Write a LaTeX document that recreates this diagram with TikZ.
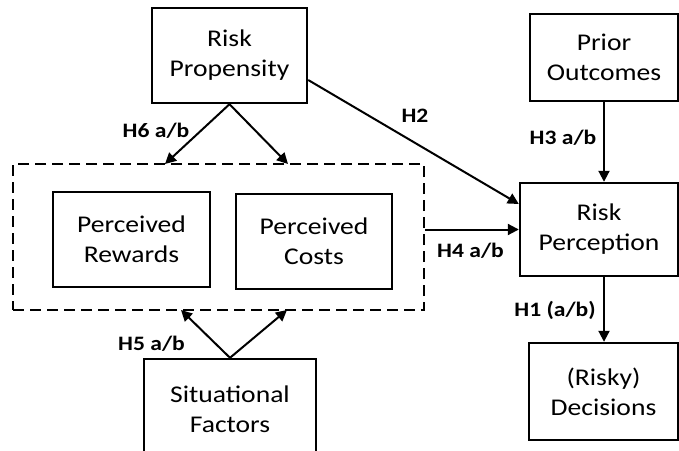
\documentclass[tikz,border=0pt]{standalone}
\usepackage{fontspec}
\setmainfont[FakeStretch=1.15]{Carlito}
\usetikzlibrary{arrows.meta}
\begin{document}
\begin{tikzpicture}[x=1pt,y=-1pt,
 box/.style={draw,line width=2.4pt,inner sep=0pt,align=center,font=\fontsize{24}{30}\selectfont},
 lbl/.style={font=\fontsize{20.5}{24}\selectfont\bfseries,inner sep=0pt},
 arr/.style={line width=2pt,-{Triangle[length=11pt,width=11pt]}},
 dbox/.style={draw,line width=1.6pt,dash pattern=on 11pt off 6pt,inner sep=0pt}]
\useasboundingbox (0,0) rectangle (679,450);
\clip (0,0) rectangle (679,450);
\fill[white] (0,0) rectangle (679,450);
% boxes
\node[box,minimum width=155pt,minimum height=95pt] (rp) at (229.5,55.5) {Risk\\Propensity};
\node[box,minimum width=148pt,minimum height=87pt] (po) at (604,57.5) {Prior\\Outcomes};
\node[box,minimum width=158pt,minimum height=93pt] (rperc) at (599,229.5) {Risk\\Perception};
\node[box,minimum width=149pt,minimum height=97pt] (dec) at (603.5,391.5) {(Risky)\\Decisions};
\node[box,minimum width=172pt,minimum height=100pt] (sf) at (230,409) {Situational\\Factors};
\node[dbox,minimum width=411pt,minimum height=146pt] (grp) at (218.5,237) {};
\node[box,minimum width=157pt,minimum height=95pt] (pr) at (131.5,239.5) {Perceived\\Rewards};
\node[box,minimum width=156pt,minimum height=95pt] (pc) at (314,241.5) {Perceived\\Costs};
% free ends on the dashed group
\coordinate (g1) at (165,164);
\coordinate (g2) at (288,164);
\coordinate (g3) at (181,310);
\coordinate (g4) at (287,310);
% connectors
\draw[arr] (rp.south) -- (g1);
\draw[arr] (rp.south) -- (g2);
\draw[arr] (sf.north) -- (g3);
\draw[arr] (sf.north) -- (g4);
\draw[arr] ([yshift=-24.5pt]rp.east) -- ([yshift=25.5pt]rperc.west);
\draw[arr] (grp.east |- rperc.west) -- (rperc.west);
\draw[arr] (po.south) -- (po.south |- rperc.north);
\draw[arr] (po.south |- rperc.south) -- (po.south |- dec.north);
% labels
\node[lbl] (l6) at (156,131) {H6 a/b};
\node[lbl] (l5) at (151.5,344) {H5 a/b};
\node[lbl] (l2) at (415,116) {H2};
\node[lbl] (l3) at (563,138) {H3 a/b};
\node[lbl] (l4) at (470.5,251) {H4 a/b};
\node[lbl] (l1) at (555,310) {H1 (a/b)};
\end{tikzpicture}
\end{document}
